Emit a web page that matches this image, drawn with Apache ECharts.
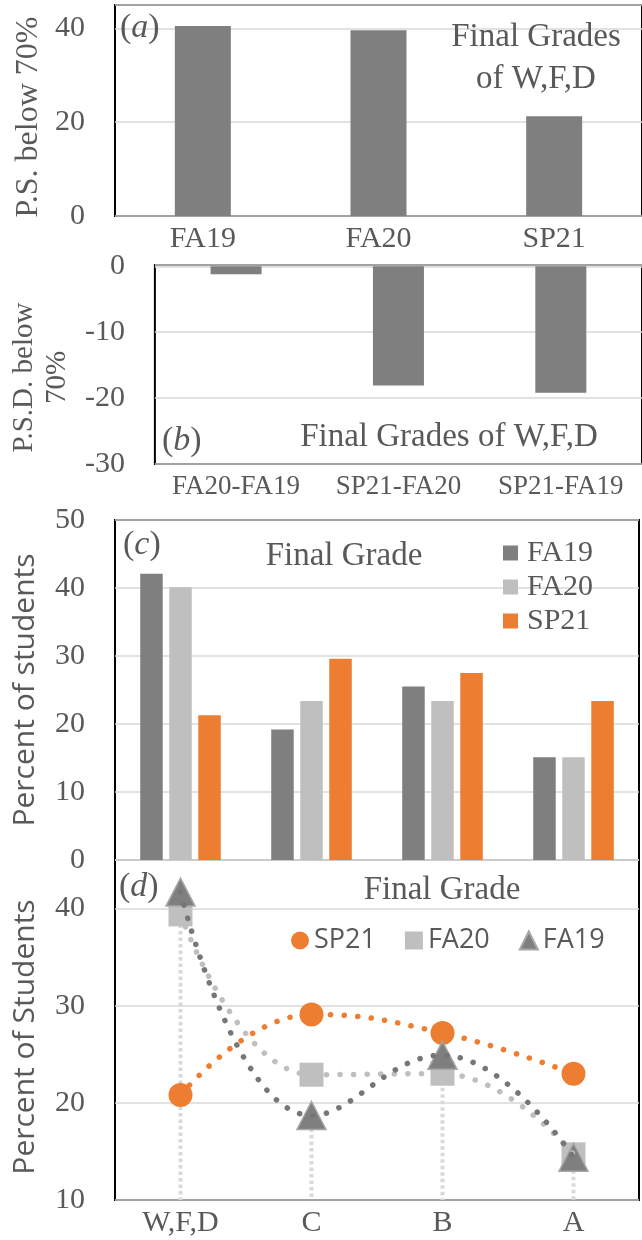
<!DOCTYPE html>
<html>
<head>
<meta charset="utf-8">
<script src="https://cdn.jsdelivr.net/npm/echarts@6/dist/echarts.min.js"></script>
<style>
html,body{margin:0;padding:0;background:#fff;overflow:hidden;}
#chart{width:642px;height:1240px;}
</style>
</head>
<body>
<div id="chart"></div>
<script>
// ---- data ----
const catsA = ['FA19', 'FA20', 'SP21'];
const valsA = [40.5, 39.6, 21.3];

const catsB = ['FA20-FA19', 'SP21-FA20', 'SP21-FA19'];
const valsB = [-1.2, -18.1, -19.2];

const gradesC = ['W,F,D', 'C', 'B', 'A'];
const seriesNamesC = ['FA19', 'FA20', 'SP21'];
const fa19C = [42.1, 19.2, 25.5, 15.1];
const fa20C = [40.1, 23.4, 23.4, 15.1];
const sp21C = [21.3, 29.6, 27.5, 23.4];

const gradesD = ['W,F,D', 'C', 'B', 'A'];
const sp21D = [20.8, 29.1, 27.2, 23.0];
const fa20D = [39.4, 22.9, 23.0, 14.7];
const fa19D = [41.7, 18.7, 24.9, 14.4];

const ticksA = [0, 20, 40];
const ticksB = [-30, -20, -10, 0];
const ticksC = [0, 10, 20, 30, 40, 50];
const ticksD = [10, 20, 30, 40];

// ---- styles ----
const SERIF = '"Liberation Serif", "DejaVu Serif", serif';
const SANS = '"Open Sans", "Noto Sans", sans-serif';
const TXT = '#595959';
const DARK = '#7f7f7f', LIGHT = '#bfbfbf', ORANGE = '#ed7d31';
const COLORS_C = [DARK, LIGHT, ORANGE];
const GRIDC = '#d9d9d9';
const DSUF = ' (d)';

function yAx(gridIndex, min, max, interval, name, nameOpts, showMax) {
  return Object.assign({
    type: 'value', gridIndex, min, max, interval,
    axisLine: {show: false}, axisTick: {show: false},
    splitLine: {show: true, lineStyle: {color: GRIDC, width: 1.5}},
    axisLabel: {fontFamily: SERIF, fontSize: 30, color: TXT, margin: 30,
      showMaxLabel: !!showMax, showMinLabel: true},
    name: name, nameLocation: 'middle'
  }, nameOpts);
}
function xAx(gridIndex, data, labelOpts) {
  return {
    type: 'category', gridIndex, data,
    axisLine: {show: false, onZero: false}, axisTick: {show: false},
    splitLine: {show: false},
    axisLabel: Object.assign({fontFamily: SERIF, color: TXT, fontSize: 30, margin: 8, interval: 0, hideOverlap: false}, labelOpts)
  };
}
const gridBase = {show: true, borderColor: '#000', borderWidth: 2, backgroundColor: 'transparent'};

function label(text, x, y, size, align) {
  return {type: 'text', x: x, y: y, z: 50,
    style: {text: text, font: size + 'px ' + SERIF, fill: TXT,
      align: align, verticalAlign: 'middle', textAlign: align, textVerticalAlign: 'middle', lineHeight: 42}};
}
function tag(letter, x, y) {
  return {type: 'text', x: x, y: y, z: 50,
    style: {text: '{p|(}{i|' + letter + '}{p|)}', fill: TXT,
      align: 'left', verticalAlign: 'middle', textAlign: 'left', textVerticalAlign: 'middle',
      rich: {p: {fontFamily: SERIF, fontSize: 34, fill: TXT, color: TXT},
             i: {fontFamily: SERIF, fontSize: 34, fontStyle: 'italic', fill: TXT, color: TXT}}}};
}

// panel (c) key: swatch + serif name for each bar series, stacked vertically
const keyC = {
  type: 'group', x: 503, y: 553, z: 60,
  children: seriesNamesC.map((n, i) => ({
    type: 'group', y: i * 34,
    children: [
      {type: 'rect', shape: {x: 0, y: -7.5, width: 15, height: 15}, style: {fill: COLORS_C[i]}, z: 60},
      {type: 'text', x: 24, y: 0, z: 60,
        style: {text: n, fontFamily: 'Liberation Serif', fontSize: 30, font: '30px "Liberation Serif", serif',
          fill: TXT, align: 'left', verticalAlign: 'middle', textAlign: 'left', textVerticalAlign: 'middle'}}
    ]
  }))
};

const dotted = (color) => ({color: color, width: 5.5, type: [0.1, 13.5], cap: 'round'});

const option = {
  animation: false,
  grid: [
    Object.assign({left: 115, top: 5, width: 531, height: 211}, gridBase),
    Object.assign({left: 154, top: 265, width: 492, height: 199}, gridBase),
    Object.assign({left: 115, top: 520, width: 524, height: 340}, gridBase),
    Object.assign({left: 115, top: 860, width: 524, height: 340}, gridBase)
  ],
  xAxis: [
    xAx(0, catsA, {fontSize: 30, margin: 8}),
    xAx(1, catsB, {fontSize: 27, margin: 9}),
    xAx(2, gradesC, {show: false}),
    xAx(3, gradesD, {fontSize: 30, margin: 8})
  ],
  yAxis: [
    yAx(0, ticksA[0], 45, 20, 'P.S. below 70%',
      {nameGap: 70, nameTextStyle: {fontFamily: SERIF, fontSize: 32, color: TXT, padding: [0, 13, 0, 0]}}, false),
    yAx(1, ticksB[0], 0.2, 10, 'P.S.D. below\n70%',
      {nameGap: 80, nameTextStyle: {fontFamily: SERIF, fontSize: 29, lineHeight: 33, color: TXT, padding: [0, 26, 0, 0]}}, false),
    yAx(2, ticksC[0], ticksC[ticksC.length - 1], 10, 'Percent of students',
      {nameGap: 75, nameTextStyle: {fontFamily: SANS, fontSize: 30, color: TXT}}, true),
    yAx(3, ticksD[0], 45, 10, 'Percent of Students',
      {nameGap: 75, nameTextStyle: {fontFamily: SANS, fontSize: 30, color: TXT, padding: [0, 14, 0, 0]}}, false)
  ],
  legend: [
    {
      orient: 'horizontal', left: 291, top: 927, padding: 0, itemWidth: 18, itemHeight: 18, itemGap: 29,
      selectedMode: false,
      formatter: (name) => name.replace(DSUF, ''),
      textStyle: {fontFamily: 'Open Sans', fontSize: 27, color: TXT},
      data: [{name: 'SP21' + DSUF, icon: 'circle'}, {name: 'FA20' + DSUF, icon: 'rect'}, {name: 'FA19' + DSUF, icon: 'triangle'}]
    }
  ],
  graphic: {
    elements: [
      tag('a', 120, 28),
      label('Final Grades\nof W,F,D', 536, 58, 33, 'center'),
      tag('b', 162, 441),
      label('Final Grades of W,F,D', 449, 437, 33, 'center'),
      tag('c', 123, 545),
      label('Final Grade', 344, 556, 33, 'center'),
      tag('d', 119, 887),
      label('Final Grade', 442, 890, 33, 'center'),
      keyC
    ]
  },
  series: [
    // panel c bars
    {name: seriesNamesC[0], type: 'bar', xAxisIndex: 2, yAxisIndex: 2, data: fa19C, barWidth: 22.5, barGap: '29%',
      itemStyle: {color: COLORS_C[0]}},
    {name: seriesNamesC[1], type: 'bar', xAxisIndex: 2, yAxisIndex: 2, data: fa20C, barWidth: 22.5, barGap: '29%',
      itemStyle: {color: COLORS_C[1]}},
    {name: seriesNamesC[2], type: 'bar', xAxisIndex: 2, yAxisIndex: 2, data: sp21C, barWidth: 22.5, barGap: '29%',
      itemStyle: {color: COLORS_C[2]}},
    // panel a
    {name: 'P.S.', type: 'bar', xAxisIndex: 0, yAxisIndex: 0, data: valsA, barWidth: 56,
      itemStyle: {color: DARK}},
    // panel b
    {name: 'P.S.D.', type: 'bar', xAxisIndex: 1, yAxisIndex: 1, data: valsB, barWidth: 51,
      itemStyle: {color: DARK}},
    // panel d drop lines
    {name: 'drop', type: 'custom', xAxisIndex: 3, yAxisIndex: 3, z: 1,
      data: fa19D.map((v, i) => [i, v]),
      renderItem: function (params, api) {
        const top = api.coord([api.value(0), api.value(1)]);
        const bottom = api.coord([api.value(0), ticksD[0]]);
        return {type: 'line', shape: {x1: top[0], y1: top[1], x2: bottom[0], y2: bottom[1]},
          style: {stroke: GRIDC, lineWidth: 4, lineDash: [3.5, 3]}};
      }},
    // panel d markers
    {name: 'SP21' + DSUF, type: 'scatter', xAxisIndex: 3, yAxisIndex: 3, z: 3, data: sp21D,
      symbol: 'circle', symbolSize: 24, itemStyle: {color: ORANGE, opacity: 1}},
    {name: 'FA20' + DSUF, type: 'scatter', xAxisIndex: 3, yAxisIndex: 3, z: 3, data: fa20D,
      symbol: 'rect', symbolSize: 24, itemStyle: {color: LIGHT, opacity: 1}},
    {name: 'FA19' + DSUF, type: 'scatter', xAxisIndex: 3, yAxisIndex: 3, z: 3, data: fa19D,
      symbol: 'triangle', symbolSize: [29, 28], itemStyle: {color: DARK, borderColor: '#a6a6a6', borderWidth: 1.5, opacity: 1}},
    // panel d trend lines
    {name: 'SP21 trend', type: 'line', xAxisIndex: 3, yAxisIndex: 3, z: 4, data: sp21D,
      smooth: 0.45, symbol: 'none', lineStyle: dotted(ORANGE)},
    {name: 'FA20 trend', type: 'line', xAxisIndex: 3, yAxisIndex: 3, z: 4, data: fa20D,
      smooth: 0.45, symbol: 'none', lineStyle: dotted(LIGHT)},
    {name: 'FA19 trend', type: 'line', xAxisIndex: 3, yAxisIndex: 3, z: 4, data: fa19D,
      smooth: 0.45, symbol: 'none', lineStyle: dotted('#767676')}
  ]
};

const chart = echarts.init(document.getElementById('chart'), null, {renderer: 'canvas'});
chart.setOption(option);
</script>
</body>
</html>
